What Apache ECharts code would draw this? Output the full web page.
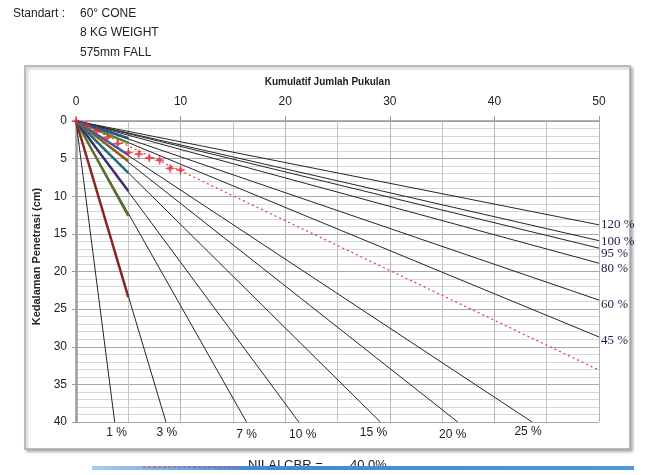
<!DOCTYPE html>
<html>
<head>
<meta charset="utf-8">
<script src="https://cdn.jsdelivr.net/npm/echarts@6/dist/echarts.min.js"></script>
<style>
  html, body { margin: 0; padding: 0; background: #fff; }
  #chart { width: 649px; height: 475px; }
</style>
</head>
<body>
<div id="chart"></div>
<script>
// CBR reference lines: label, end point (blows, depth cm)
const cbrLabels = ['120 %', '100 %', '95 %', '80 %', '60 %', '45 %', '25 %', '20 %', '15 %', '10 %', '7 %', '3 %', '1 %']
const cbrEndX = [50, 50, 50, 50, 50, 50, 43.6, 36.5, 29.1, 21.3, 16.3, 8.6, 3.7]
const cbrEndY = [13.8, 15.9, 16.9, 18.9, 23.8, 28.7, 40, 40, 40, 40, 40, 40, 40]

// coloured first segments (0 -> 5 blows), depth read at 5 blows
const segEndX = [5, 5, 5, 5, 5, 5, 5, 5]
const segEndY = [23.4, 12.6, 9.3, 6.9, 5.3, 4.5, 2.9, 2.3]

// test data: cumulative blows vs penetration depth
const blows = [0, 1, 2, 3, 4, 5, 6, 7, 8, 9, 10]
const depth = [0, 0.6, 1.3, 2.2, 3.0, 4.2, 4.4, 4.9, 5.2, 6.3, 6.5]

// fitted line (CBR 40%)
const trendX = [0, 50]
const trendY = [0, 33.1]

const xTicks = [0, 10, 20, 30, 40, 50]
const yTicks = [0, 5, 10, 15, 20, 25, 30, 35, 40]

const segColors = ['#8a2424', '#55732b', '#3a2f6a', '#1f6d7c', '#9a5a1e', '#3a64a0', '#5a8a2c', '#2d4f8a']
const labelOffsets = [[0, 0], [0, 1], [0, 5], [0, 5], [0, 4], [0, 4], [-4, -1], [-5, 2], [-7, 0], [4, 2], [0, 2], [1, 0], [2, 0]]

const chart = echarts.init(document.getElementById('chart'))

const cbrSeries = cbrLabels.map((lab, i) => {
  const atRight = cbrEndX[i] >= 50
  return {
    type: 'line',
    name: 'CBR ' + lab,
    silent: true,
    symbol: 'circle',
    symbolSize: 0,
    showSymbol: true,
    z: 3,
    lineStyle: { color: '#262626', width: 1 },
    itemStyle: { color: '#262626' },
    data: [
      { value: [0, 0], label: { show: false } },
      {
        value: [cbrEndX[i], cbrEndY[i]],
        label: {
          show: true,
          formatter: lab,
          position: atRight ? 'right' : 'bottom',
          distance: atRight ? 2 : 5,
          offset: labelOffsets[i],
          fontFamily: atRight ? 'Liberation Serif' : 'Liberation Sans',
          fontSize: atRight ? 13 : 12,
          color: atRight ? '#1c1c4c' : '#222'
        }
      }
    ]
  }
})

const segSeries = segEndY.map((y, i) => ({
  type: 'line',
  silent: true,
  symbol: 'none',
  z: 4,
  lineStyle: { color: segColors[i], width: 2.5 },
  data: [[0, 0], [segEndX[i], y]]
}))

const option = {
  animation: false,
  backgroundColor: '#fff',
  textStyle: { fontFamily: 'Liberation Sans' },
  grid: { left: 76, top: 121, right: 50, bottom: 53 },
  xAxis: {
    type: 'value',
    position: 'top',
    min: 0,
    max: 50,
    interval: 10,
    name: 'Kumulatif Jumlah Pukulan',
    nameLocation: 'middle',
    nameGap: 34,
    nameTextStyle: { fontSize: 10, fontWeight: 'bold', color: '#222', padding: [0, 20, 0, 0] },
    axisLine: { show: true, onZero: false, lineStyle: { color: '#9a9a9a', width: 1.5 } },
    axisTick: { show: true, length: 5, lineStyle: { color: '#9a9a9a' } },
    axisLabel: { fontSize: 12, color: '#222', margin: 13, formatter: v => xTicks.includes(v) ? String(v) : '' },
    splitLine: { show: true, lineStyle: { color: '#b4b4b4', width: 1 } },
    minorTick: { show: false, splitNumber: 2 },
    minorSplitLine: { show: true, lineStyle: { color: '#c4c4c4', width: 1 } }
  },
  yAxis: {
    type: 'value',
    inverse: true,
    min: 0,
    max: 40,
    interval: 5,
    name: 'Kedalaman Penetrasi (cm)',
    nameLocation: 'middle',
    nameGap: 34,
    nameTextStyle: { fontSize: 11, fontWeight: 'bold', color: '#222', padding: [0, 0, 0, 30] },
    axisLine: { show: true, onZero: false, lineStyle: { color: '#9a9a9a', width: 2.5 } },
    axisTick: { show: true, length: 4, lineStyle: { color: '#9a9a9a' } },
    axisLabel: { fontSize: 12, color: '#222', margin: 9, formatter: v => yTicks.includes(v) ? String(v) : '' },
    splitLine: { show: true, lineStyle: { color: '#a8a8a8', width: 1 } },
    minorTick: { show: false, splitNumber: 5 },
    minorSplitLine: { show: true, lineStyle: { color: '#d6d6d6', width: 1 } }
  },
  graphic: [
    {
      type: 'rect', z: -10, silent: true,
      shape: { x: 25, y: 66, width: 605, height: 383 },
      style: { fill: '#fff', stroke: '#a8a8a8', lineWidth: 1.5, shadowBlur: 3, shadowOffsetX: 2, shadowOffsetY: 2, shadowColor: 'rgba(0,0,0,0.3)' }
    },
    { type: 'text', left: 13, top: 8, style: { text: 'Standart :', font: '12px "Liberation Sans"', fill: '#222' } },
    { type: 'text', left: 80, top: 8, style: { text: '60° CONE', font: '12px "Liberation Sans"', fill: '#222' } },
    { type: 'text', left: 80, top: 27, style: { text: '8 KG WEIGHT', font: '12px "Liberation Sans"', fill: '#222' } },
    { type: 'text', left: 80, top: 47, style: { text: '575mm FALL', font: '12px "Liberation Sans"', fill: '#222' } },
    { type: 'text', left: 248, top: 459, z: 1, style: { text: 'NILAI CBR =', font: '13px "Liberation Sans"', fill: '#222' } },
    { type: 'text', left: 350, top: 459, z: 1, style: { text: '40.0%', font: '13px "Liberation Sans"', fill: '#222' } },
    {
      type: 'rect', z: 2, silent: true,
      shape: { x: 92, y: 466, width: 542, height: 4 },
      style: {
        fill: new echarts.graphic.LinearGradient(0, 0, 1, 0, [
          { offset: 0, color: '#a9cdee' },
          { offset: 0.3, color: '#3d8ad6' },
          { offset: 1, color: '#4e98dc' }
        ])
      }
    },
    { type: 'line', z: 3, silent: true, shape: { x1: 143, y1: 467, x2: 242, y2: 467 }, style: { stroke: '#d04060', lineWidth: 1, lineDash: [3, 2] } },
    { type: 'rect', z: 3, silent: true, shape: { x: 0, y: 470, width: 649, height: 5 }, style: { fill: '#fff' } }
  ],
  series: [
    ...cbrSeries,
    ...segSeries,
    {
      type: 'line',
      name: 'CBR 40%',
      silent: true,
      symbol: 'none',
      z: 5,
      lineStyle: { color: '#e03a3a', width: 1.2, type: [2, 3] },
      data: trendX.map((x, i) => [x, trendY[i]])
    },
    {
      type: 'scatter',
      name: 'Data',
      silent: true,
      z: 6,
      symbol: 'path://M5,0 L6,3.8 L10,5 L6,6.2 L5,10 L4,6.2 L0,5 L4,3.8 Z',
      symbolSize: 9,
      itemStyle: { color: '#e5242c', borderColor: 'rgba(229,36,44,0.5)', borderWidth: 1 },
      data: blows.map((b, i) => [b, depth[i]])
    }
  ]
}

chart.setOption(option)
</script>
</body>
</html>
